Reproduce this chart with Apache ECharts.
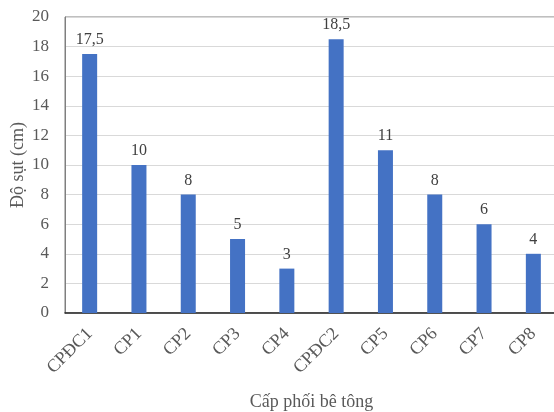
<!DOCTYPE html>
<html>
<head>
<meta charset="utf-8">
<script src="https://cdn.jsdelivr.net/npm/echarts@6/dist/echarts.min.js"></script>
<style>
  html, body { margin: 0; padding: 0; background: #fff; }
  #chart { width: 554px; height: 412px; }
</style>
</head>
<body>
<div id="chart"></div>
<script>
// Slump per concrete mix
const categories = ['CPĐC1', 'CP1', 'CP2', 'CP3', 'CP4', 'CPĐC2', 'CP5', 'CP6', 'CP7', 'CP8'];
const slumpValues = [17.5, 10, 8, 5, 3, 18.5, 11, 8, 6, 4];
const yTicks = { min: 0, max: 20, interval: 2 };

const FONT = '"Liberation Serif", "Times New Roman", serif';
const TEXT = '#595959';

const chart = echarts.init(document.getElementById('chart'), null, { renderer: 'canvas' });
chart.setOption({
  animation: false,
  backgroundColor: '#ffffff',
  grid: {
    left: 65, top: 17, bottom: 99, right: -4,
    containLabel: false,
    outerBoundsMode: 'none',
    show: true, borderColor: '#7f7f7f', borderWidth: 1, backgroundColor: 'transparent'
  },
  xAxis: {
    type: 'category',
    data: categories,
    name: 'Cấp phối bê tông',
    nameLocation: 'middle',
    nameGap: 80,
    nameMoveOverlap: false,
    nameTextStyle: { fontFamily: FONT, fontSize: 18, color: TEXT },
    axisLine: { lineStyle: { color: '#262626', width: 1.5 } },
    axisTick: { show: false },
    axisLabel: { rotate: 45, margin: 18, fontFamily: FONT, fontSize: 18, color: TEXT, interval: 0 }
  },
  yAxis: {
    type: 'value',
    min: yTicks.min, max: yTicks.max, interval: yTicks.interval,
    name: 'Độ sụt (cm)',
    nameLocation: 'middle',
    nameGap: 38,
    nameMoveOverlap: false,
    nameTextStyle: { fontFamily: FONT, fontSize: 18, color: TEXT },
    axisLine: { show: true, lineStyle: { color: '#7f7f7f' } },
    axisTick: { show: false },
    axisLabel: { margin: 16, fontFamily: FONT, fontSize: 17, color: TEXT },
    splitLine: { lineStyle: { color: '#d9d9d9' } }
  },
  series: [{
    type: 'bar',
    data: slumpValues,
    barWidth: 15,
    itemStyle: { color: '#4472c4' },
    label: {
      show: true,
      position: 'top',
      distance: 6,
      fontFamily: FONT, fontSize: 16, color: '#404040',
      formatter: p => String(p.value).replace('.', ',')
    }
  }]
});
</script>
</body>
</html>
